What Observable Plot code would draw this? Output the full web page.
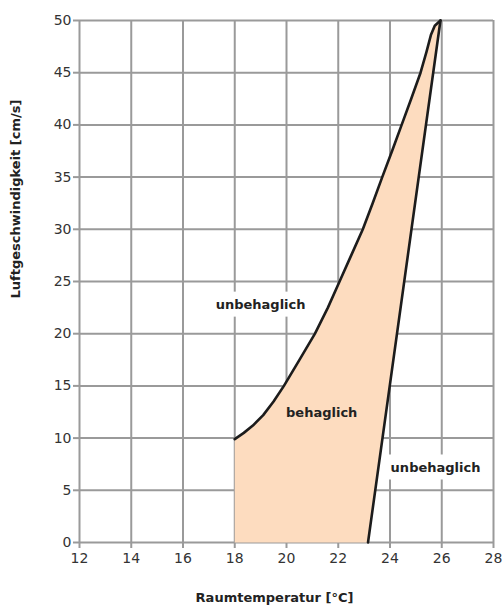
<!DOCTYPE html>
<html>
<head>
<meta charset="utf-8">
<script src="https://cdn.jsdelivr.net/npm/d3@7"></script>
<script src="https://cdn.jsdelivr.net/npm/@observablehq/plot@0.6"></script>
<style>
  html, body { margin: 0; padding: 0; background: #fff; }
</style>
</head>
<body>
<div id="chart"></div>
<script>
// Tick values
const xTicks = [12, 14, 16, 18, 20, 22, 24, 26, 28];
const yTicks = [0, 5, 10, 15, 20, 25, 30, 35, 40, 45, 50];

// Upper-left boundary of the comfort zone (Raumtemperatur °C, Luftgeschwindigkeit cm/s)
const leftX = [18.0, 18.35, 18.7, 19.1, 19.5, 19.9, 20.5, 21.1, 21.6, 22.05, 22.5, 22.95, 23.33, 23.7, 24.08, 24.45, 24.82, 25.18, 25.41, 25.58, 25.73, 25.95];
const leftY = [9.9, 10.5, 11.2, 12.2, 13.5, 15.0, 17.5, 20.0, 22.5, 25.0, 27.5, 30.0, 32.5, 35.0, 37.5, 40.0, 42.5, 45.0, 47.0, 48.6, 49.5, 50.0];

// Right boundary (straight line from the apex down to the x axis)
const rightX = [25.95, 23.15];
const rightY = [50.0, 0.0];

// Bottom-left corner of the comfort zone
const cornerX = [18.0];
const cornerY = [0.0];

// Region labels
const labelText = ["unbehaglich", "behaglich", "unbehaglich"];
const labelX = [19.0, 21.36, 25.76];
const labelY = [22.8, 12.4, 7.2];
const labelBoxed = [true, false, true];

const leftCurve = leftX.map((x, i) => ({x, y: leftY[i]}));
const rightLine = rightX.map((x, i) => ({x, y: rightY[i]}));
const polygon = [
  ...cornerX.map((x, i) => ({x, y: cornerY[i]})),
  ...leftCurve,
  ...rightLine.slice(1)
];
const labels = labelText.map((t, i) => ({text: t, x: labelX[i], y: labelY[i], boxed: labelBoxed[i]}));

const font = "'DejaVu Sans', sans-serif";

const chart = Plot.plot({
  width: 504,
  height: 606,
  marginLeft: 79,
  marginRight: 11,
  marginTop: 20,
  marginBottom: 64,
  style: {fontFamily: font, fontSize: "14px", color: "#333", background: "#fff"},
  x: {domain: [12, 28], ticks: xTicks, label: null},
  y: {domain: [0, 50], ticks: yTicks, label: null},
  marks: [
    Plot.gridX(xTicks, {stroke: "#9a9a9a", strokeOpacity: 1, strokeWidth: 2}),
    Plot.gridY(yTicks, {stroke: "#9a9a9a", strokeOpacity: 1, strokeWidth: 2}),
    Plot.axisX({ticks: xTicks, tickSize: 6, tickPadding: 5, stroke: "#9a9a9a", strokeWidth: 2, fill: "#333", label: null, fontSize: 14}),
    Plot.axisY({ticks: yTicks, tickSize: 6, tickPadding: 2, stroke: "#9a9a9a", strokeWidth: 2, fill: "#333", label: null, fontSize: 14}),
    Plot.line(polygon, {x: "x", y: "y", fill: "#fddcbf", stroke: "none"}),
    Plot.line(leftCurve, {x: "x", y: "y", stroke: "#1c1c1c", strokeWidth: 2.6, strokeLinejoin: "round"}),
    Plot.line(rightLine, {x: "x", y: "y", stroke: "#1c1c1c", strokeWidth: 2.6}),
    Plot.text(labels, {x: "x", y: "y", text: "text", fontWeight: "bold", fontSize: 13, fill: "#222"}),
    Plot.text(["Raumtemperatur [°C]"], {frameAnchor: "bottom", dy: 59, dx: -12, fontWeight: "bold", fontSize: 13, fill: "#222"}),
    Plot.text(["Luftgeschwindigkeit [cm/s]"], {frameAnchor: "left", rotate: -90, dx: -64, dy: 17, fontWeight: "bold", fontSize: 13, fill: "#222"})
  ]
});

document.getElementById("chart").appendChild(chart);

// White background boxes behind the "unbehaglich" labels (sized from the rendered text)
const svgNS = "http://www.w3.org/2000/svg";
chart.querySelectorAll("text").forEach(t => {
  const lab = labels.find(l => l.boxed && l.text === t.textContent);
  if (!lab) return;
  const bb = t.getBBox();
  const g = t.parentNode;
  const rect = document.createElementNS(svgNS, "rect");
  rect.setAttribute("x", bb.x - 6);
  rect.setAttribute("y", bb.y - 5);
  rect.setAttribute("width", bb.width + 12);
  rect.setAttribute("height", bb.height + 10);
  rect.setAttribute("fill", "#fff");
  if (t.getAttribute("transform")) rect.setAttribute("transform", t.getAttribute("transform"));
  g.insertBefore(rect, t);
});
</script>
</body>
</html>
